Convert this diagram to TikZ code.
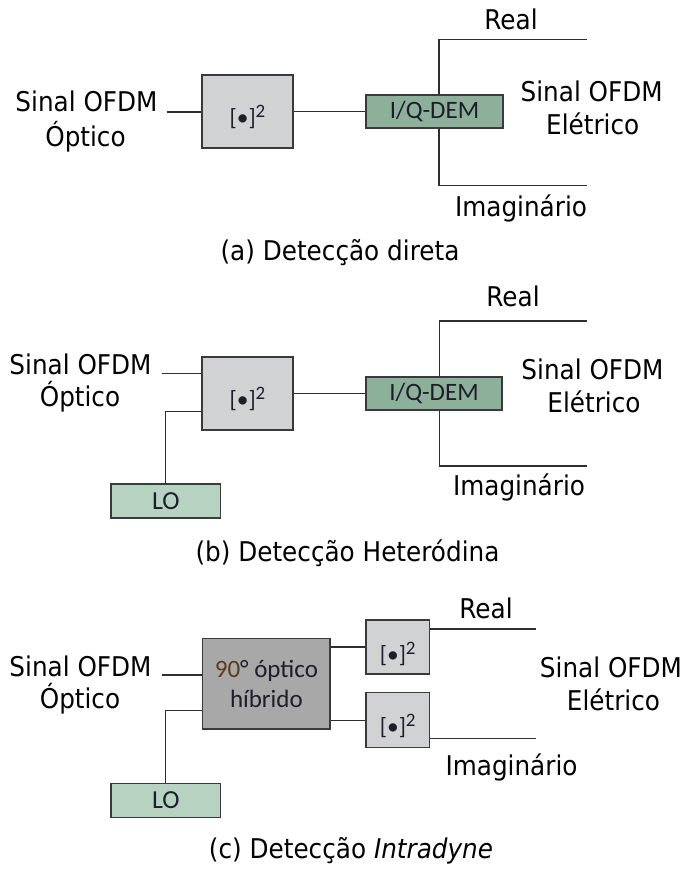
\documentclass[tikz,border=0pt]{standalone}
\usepackage{fontspec}
\usepackage{graphicx}
\setmainfont{DejaVu Sans}
\newfontfamily\boxfont{Carlito}
\definecolor{sqfill}{HTML}{D1D2D4}
\definecolor{hyfill}{HTML}{A8A8A8}
\definecolor{iqfill}{HTML}{8DB09B}
\definecolor{lofill}{HTML}{B6D3C2}
\definecolor{edgec}{HTML}{3A3A3A}
\definecolor{wirec}{HTML}{2E2E2E}
\definecolor{boxtext}{HTML}{1E1E2A}
\definecolor{ninety}{HTML}{5C3A1E}
\newcommand{\st}[1]{\scalebox{1}[1.1]{#1}}
\newcommand{\sqtxt}[1]{\raisebox{-#1pt}[0pt][0pt]{{\fontsize{23.5}{25}\selectfont[•]}\raisebox{8pt}{\fontsize{19}{20}\selectfont 2}}}
\begin{document}
\begin{tikzpicture}[x=1pt,y=-1pt,
  lbl/.style={anchor=base, inner sep=0pt, font=\fontsize{24.7}{30}\selectfont},
  wire/.style={draw=wirec, line width=1.3pt},
  blk/.style={draw=edgec, line width=1.4pt, inner sep=0pt, text=boxtext, font=\boxfont\fontsize{25}{30}\selectfont},
  sq/.style={blk, fill=sqfill},
  iq/.style={blk, fill=iqfill},
  lo/.style={blk, fill=lofill, font=\boxfont\fontsize{26}{30}\selectfont},
  hy/.style={blk, fill=hyfill, align=center}]

\useasboundingbox (0,0) rectangle (688,869);
\fill[white] (0,0) rectangle (688,869);

% ---------------- (a) ----------------
\node[sq, minimum width=91pt, minimum height=73pt] (sqa) at (247.5,111.5) {\sqtxt{14}};
\node[iq, minimum width=137pt, minimum height=33pt] (iqa) at (434.5,111.5) {I/Q-DEM};
\coordinate (ina) at (166.7,112);
\coordinate (ta) at (439,39.3);
\coordinate (tea) at (587,39.3);
\coordinate (ba) at (439,185.7);
\coordinate (bea) at (587,185.7);
\draw[wire] (ina) -- (ina -| sqa.west);
\draw[wire] (sqa) -- (iqa);
\draw[wire] (tea) -- (ta) -- (ta |- iqa.north);
\draw[wire] (ba |- iqa.south) -- (ba) -- (bea);
\node[lbl] (sa1) at (86.5,111.7) {\st{Sinal OFDM}};
\node[lbl] (sa2) at (85.5,146.5) {\st{Óptico}};
\node[lbl] (reala) at (511,30) {\st{Real}};
\node[lbl] (ea1) at (591.7,101.7) {\st{Sinal OFDM}};
\node[lbl] (ea2) at (592.7,135) {\st{Elétrico}};
\node[lbl] (ima) at (521,216.7) {\st{Imaginário}};
\node[lbl] (capa) at (340,260) {\st{(a) Detecção direta}};

% ---------------- (b) ----------------
\node[sq, minimum width=91pt, minimum height=73pt] (sqb) at (247.5,393.5) {\sqtxt{14}};
\node[iq, minimum width=136pt, minimum height=33pt] (iqb) at (434,393.5) {I/Q-DEM};
\node[lo, minimum width=109.6pt, minimum height=34pt] (lob) at (165.8,501) {LO};
\coordinate (inb) at (161.5,373.5);
\coordinate (cb) at (165.8,411.7);
\coordinate (tb) at (439.5,321);
\coordinate (teb) at (587,321);
\coordinate (bb) at (439.5,466);
\coordinate (beb) at (587,466);
\draw[wire] (inb) -- (inb -| sqb.west);
\draw[wire] (lob.north) -- (cb) -- (cb -| sqb.west);
\draw[wire] (sqb) -- (iqb);
\draw[wire] (teb) -- (tb) -- (tb |- iqb.north);
\draw[wire] (bb |- iqb.south) -- (bb) -- (beb);
\node[lbl] (sb1) at (80.5,374.3) {\st{Sinal OFDM}};
\node[lbl] (sb2) at (80,406.7) {\st{Óptico}};
\node[lbl] (realb) at (513,306.5) {\st{Real}};
\node[lbl] (eb1) at (592.5,379) {\st{Sinal OFDM}};
\node[lbl] (eb2) at (594,412) {\st{Elétrico}};
\node[lbl] (imb) at (519,495) {\st{Imaginário}};
\node[lbl] (capb) at (347.5,561.7) {\st{(b) Detecção Heteródina}};

% ---------------- (c) ----------------
\node[hy, minimum width=127.3pt, minimum height=90.7pt] (hyc) at (266.4,683.7) {\textcolor{ninety}{90}°~óptico\\híbrido};
\node[sq, minimum width=63.3pt, minimum height=54pt] (sqc1) at (397.7,647) {\sqtxt{15}};
\node[sq, minimum width=63.3pt, minimum height=55pt] (sqc2) at (397.7,720.2) {\sqtxt{14.5}};
\node[lo, minimum width=109.6pt, minimum height=34pt] (loc) at (165.8,800.3) {LO};
\coordinate (inc) at (162,675);
\coordinate (cc) at (165.8,710.7);
\coordinate (oc1) at (536,629);
\coordinate (oc2) at (536,738.3);
\draw[wire] (inc) -- (inc -| hyc.west);
\draw[wire] (loc.north) -- (cc) -- (cc -| hyc.west);
\draw[wire] (sqc1.west -| hyc.east) -- (sqc1.west);
\draw[wire] (sqc2.west -| hyc.east) -- (sqc2.west);
\draw[wire] (oc1 -| sqc1.east) -- (oc1);
\draw[wire] (oc2 -| sqc2.east) -- (oc2);
\node[lbl] (sc1) at (80.5,676.7) {\st{Sinal OFDM}};
\node[lbl] (sc2) at (80,708) {\st{Óptico}};
\node[lbl] (realc) at (486,618.3) {\st{Real}};
\node[lbl] (ec1) at (611,677.7) {\st{Sinal OFDM}};
\node[lbl] (ec2) at (613.5,710.7) {\st{Elétrico}};
\node[lbl] (imc) at (511.5,775) {\st{Imaginário}};
\node[lbl] (capc) at (351,858) {\st{(c) Detecção \textit{Intradyne}}};
\end{tikzpicture}
\end{document}
